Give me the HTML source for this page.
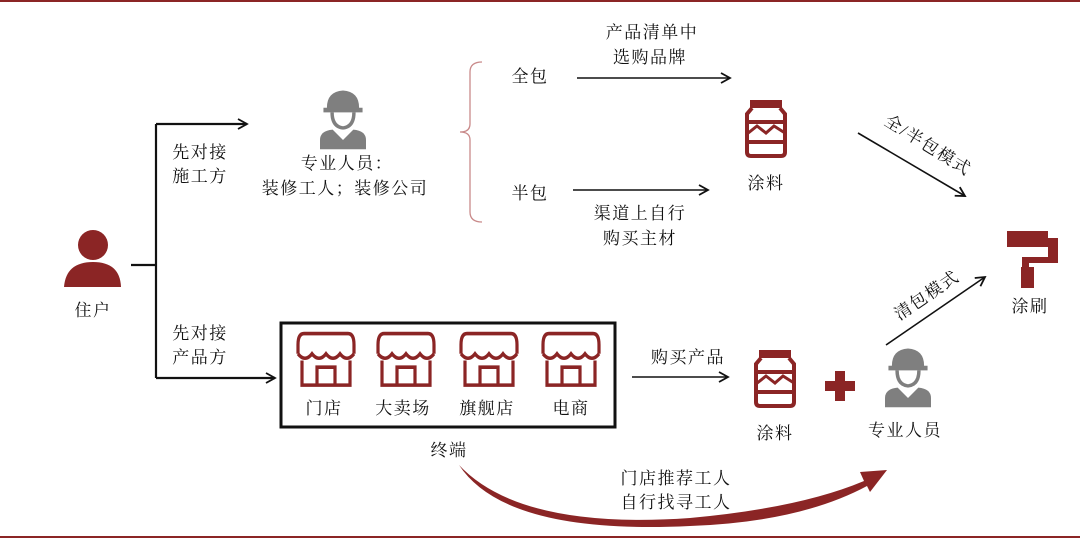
<!DOCTYPE html>
<html><head><meta charset="utf-8"><style>
body{margin:0;background:#fff}
svg text{font-family:"Liberation Serif","Noto Serif CJK SC",serif;font-size:17px;fill:#111;text-anchor:middle;letter-spacing:1.5px}
</style></head><body>
<svg width="1080" height="539" viewBox="0 0 1080 539" xmlns="http://www.w3.org/2000/svg">
<defs>
<marker id="a" markerWidth="12" markerHeight="12" refX="10" refY="6" orient="auto" markerUnits="userSpaceOnUse"><path d="M1,1 L10,6 L1,11" fill="none" stroke="#111" stroke-width="1.8"/></marker>
<g id="jar" fill="none" stroke="#8b2525" stroke-width="4">
<rect x="-16" y="-28" width="32" height="8" fill="#8b2525" stroke="none"/>
<path d="M-14,-20 L-19,-14 L-19,24 Q-19,28 -15,28 L15,28 Q19,28 19,24 L19,-14 L14,-20"/>
<path d="M-19,-6 L19,-6 M-19,14 L19,14"/>
<path d="M-19,6 L-9,-2 L0,5 L8,-2 L19,5" stroke-width="3"/>
</g>
<g id="worker" fill="#7f7f7f" transform="scale(1.15)">
<path d="M-14,-8 Q-14,-22 0,-23 Q14,-22 14,-8 L17,-8 L17,-4 L-17,-4 L-17,-8Z"/>
<path d="M-11,-4 Q-11,10 0,11 Q11,10 11,-4 L8,-4 Q8,7 0,8 Q-8,7 -8,-4Z"/>
<path d="M-20,28 L-20,20 Q-20,12 -9,11 L0,20 L9,11 Q20,12 20,20 L20,28Z"/>
</g>
<g id="store" fill="none" stroke="#8b2525" stroke-width="3.2" transform="scale(1,1.12)">
<path d="M-22,-20 Q-28,-20 -28,-10 L-28,-2 M22,-20 Q28,-20 28,-10 L28,-2 M-22,-20 L22,-20"/>
<path d="M-28,-2 Q-21,6 -14,-2 Q-7,6 0,-2 Q7,6 14,-2 Q21,6 28,-2"/>
<path d="M-24,4 L-24,26 L24,26 L24,4"/>
<path d="M-9,26 L-9,10 L9,10 L9,26"/>
</g>
</defs>
<rect x="0" y="0" width="1080" height="2" fill="#8b2525"/>
<rect x="0" y="536" width="1080" height="2" fill="#8b2525"/>

<circle cx="93" cy="245" r="15" fill="#8b2525"/>
<path d="M64,287 Q66,262 93,262 Q120,262 121,287Z" fill="#8b2525"/>
<text x="93" y="316">住户</text>

<path d="M131,265 H156 M156,124 V378" stroke="#111" stroke-width="2.2" fill="none"/>
<path d="M156,124 H247" stroke="#111" stroke-width="2.2" marker-end="url(#a)"/>
<path d="M156,378 H275" stroke="#111" stroke-width="2.2" marker-end="url(#a)"/>
<text x="200" y="158">先对接</text><text x="200" y="182">施工方</text>
<text x="200" y="339">先对接</text><text x="200" y="363">产品方</text>

<use href="#worker" x="343" y="117"/>
<text x="347" y="169">专业人员：</text>
<text x="345" y="194">装修工人；装修公司</text>

<path d="M482,62 Q470,62 470,72 L470,124 Q470,132 460,132 Q470,132 470,140 L470,212 Q470,222 482,222" fill="none" stroke="#c98a8a" stroke-width="1.3"/>
<text x="530" y="82">全包</text>
<text x="530" y="199">半包</text>
<path d="M577,78 H730" stroke="#111" stroke-width="1.6" marker-end="url(#a)"/>
<text x="652" y="38">产品清单中</text><text x="650" y="63">选购品牌</text>
<path d="M573,190 H708" stroke="#111" stroke-width="1.6" marker-end="url(#a)"/>
<text x="640" y="219">渠道上自行</text><text x="640" y="244">购买主材</text>

<use href="#jar" x="766" y="128"/>
<text x="766" y="189">涂料</text>

<path d="M858,133 L965,196" stroke="#111" stroke-width="1.6" marker-end="url(#a)"/>
<text transform="translate(925,150) rotate(32)">全/半包模式</text>

<rect x="1007" y="231" width="41" height="16" fill="#8b2525"/>
<rect x="1048" y="238" width="10" height="25" fill="#8b2525"/>
<rect x="1022" y="257" width="36" height="6" fill="#8b2525"/>
<rect x="1022" y="257" width="7" height="11" fill="#8b2525"/>
<rect x="1021" y="267" width="13" height="21" fill="#8b2525"/>
<text x="1030" y="312">涂刷</text>

<path d="M886,345 L985,277" stroke="#111" stroke-width="1.6" marker-end="url(#a)"/>
<text transform="translate(930,300) rotate(-34)">清包模式</text>

<rect x="281" y="323" width="334" height="104" fill="none" stroke="#111" stroke-width="3"/>
<use href="#store" x="326" y="356"/>
<use href="#store" x="406" y="356"/>
<use href="#store" x="489" y="356"/>
<use href="#store" x="571" y="356"/>
<text x="324" y="414">门店</text><text x="403" y="414">大卖场</text><text x="487" y="414">旗舰店</text><text x="571" y="414">电商</text>
<text x="449" y="456">终端</text>

<path d="M632,377 H728" stroke="#111" stroke-width="1.6" marker-end="url(#a)"/>
<text x="688" y="363">购买产品</text>
<use href="#jar" x="775" y="378"/>
<text x="775" y="439">涂料</text>
<path d="M835,371 H845 V381 H855 V391 H845 V401 H835 V391 H825 V381 H835Z" fill="#8b2525"/>
<use href="#worker" x="908" y="375"/>
<text x="905" y="436">专业人员</text>

<path d="M459,465 Q520,530 690,518 Q800,508 864,481 L860,472 L887,470 L870,492 L867,486 Q800,522 690,526 Q505,535 459,465Z" fill="#8b2525"/>
<text x="676" y="484">门店推荐工人</text>
<text x="676" y="508">自行找寻工人</text>
</svg>
</body></html>
